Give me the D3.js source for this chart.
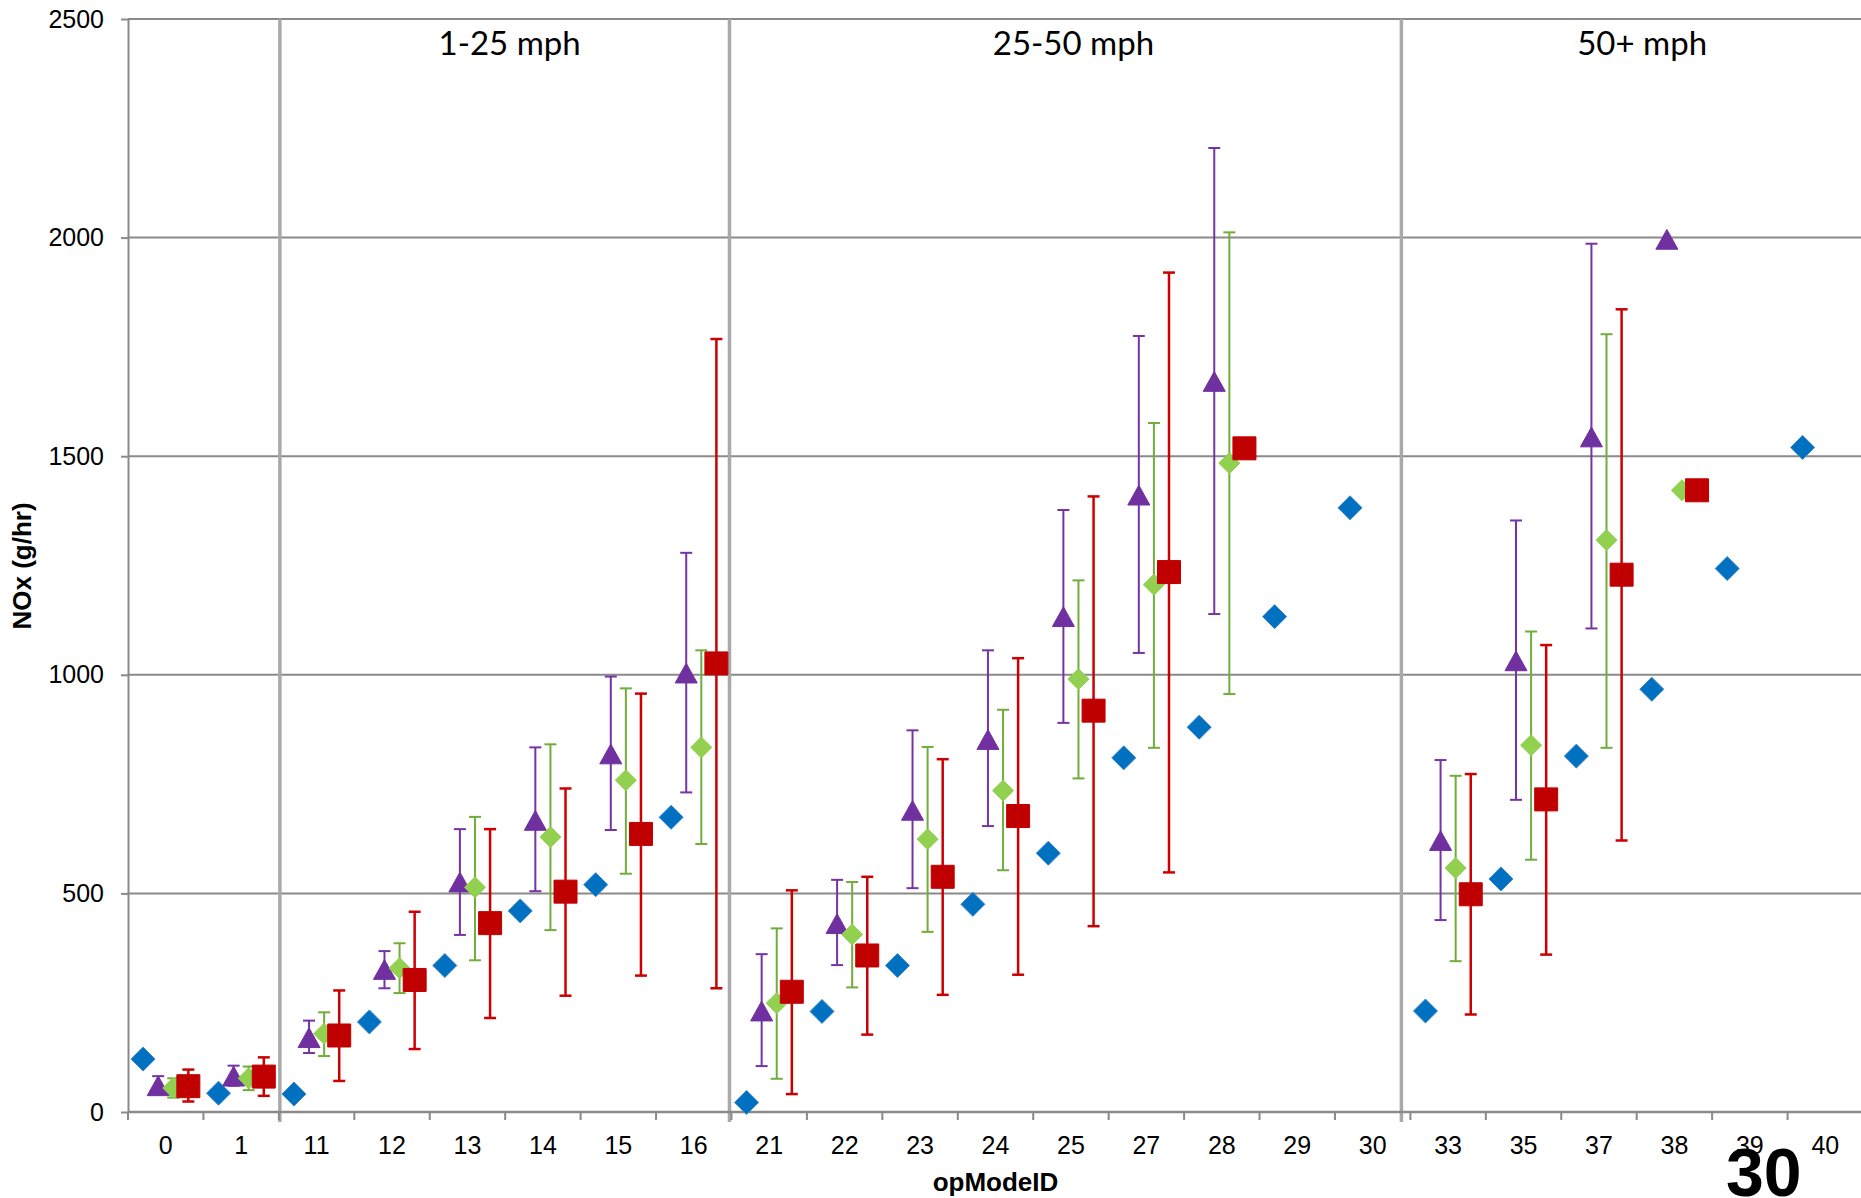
<!DOCTYPE html>
<html>
<head>
<meta charset="utf-8">
<script src="https://cdn.jsdelivr.net/npm/d3@7"></script>
<style>
  body { margin: 0; background: #fff; }
  text { font-family: "Liberation Sans", Arial, sans-serif; fill: #000; }
</style>
</head>
<body>
<div id="chart"></div>
<script>
// opModeID categories and y ticks
const categories = ["0", "1", "11", "12", "13", "14", "15", "16", "21", "22", "23", "24", "25",
                    "27", "28", "29", "30", "33", "35", "37", "38", "39", "40"];
const yTicks = [0, 500, 1000, 1500, 2000, 2500];

// blue diamonds (no error bars)
const blueVals   = [121, 43, 41, 206, 335, 460, 520, 674, 22, 230, 335, 475, 592,
                    810, 880, 1133, 1382, 231, 533, 814, 967, 1243, 1520];

// purple triangles
const purpleVals = [60, 82, 170, 326, 526, 667, 819, 1004, 231, 431, 690, 852, 1133,
                    1411, 1671, null, null, 621, 1032, 1544, 1996, null, null];
const purpleHi   = [82, 106, 209, 368, 647, 834, 996, 1279, 361, 531, 873, 1056, 1377,
                    1775, 2205, null, null, 805, 1353, 1986, null, null, null];
const purpleLo   = [42, 60, 135, 283, 405, 505, 645, 731, 105, 336, 512, 654, 890,
                    1050, 1139, null, null, 439, 714, 1106, null, null, null];

// green diamonds
const greenVals  = [55, 77, 179, 329, 514, 629, 759, 834, 249, 406, 624, 735, 990,
                    1206, 1484, null, null, 558, 839, 1308, 1422, null, null];
const greenHi    = [77, 104, 228, 386, 675, 841, 969, 1056, 420, 526, 835, 920, 1216,
                    1576, 2012, null, null, 769, 1099, 1779, null, null, null];
const greenLo    = [33, 50, 128, 272, 347, 416, 545, 613, 76, 285, 412, 553, 763,
                    833, 956, null, null, 345, 577, 833, null, null, null];

// red squares
const redVals    = [59, 81, 175, 302, 432, 504, 636, 1026, 275, 358, 538, 677, 918,
                    1235, 1518, null, null, 498, 715, 1229, 1422, null, null];
const redHi      = [97, 125, 278, 458, 647, 740, 957, 1768, 507, 538, 807, 1038, 1408,
                    1920, null, null, null, 773, 1068, 1836, null, null, null];
const redLo      = [24, 37, 71, 144, 215, 266, 312, 283, 41, 177, 268, 314, 425,
                    548, null, null, null, 223, 360, 621, null, null, null];

// speed groups (first category of each group)
const sectionLabels = ["1-25 mph", "25-50 mph", "50+ mph"];
const sectionStarts = ["11", "21", "33"];

const w = 1861;
const h = 1198;
const plotLeft = 128, plotRight = 1863, plotTop = 19, plotBottom = 1112;

const xScale = d3.scaleBand().domain(categories).range([plotLeft, plotRight]);
const yScale = d3.scaleLinear().domain([0, 2500]).range([plotBottom, plotTop]);
const bw = xScale.bandwidth();

const svg = d3.select("#chart")
  .append("svg")
  .attr("width", w)
  .attr("height", h);

// horizontal gridlines
svg.append("g")
  .selectAll("line")
  .data(yTicks)
  .join("line")
  .attr("x1", plotLeft)
  .attr("x2", w)
  .attr("y1", d => yScale(d))
  .attr("y2", d => yScale(d))
  .attr("stroke", "#8a8a8a")
  .attr("stroke-width", 2);

// y axis
const yAxis = d3.axisLeft(yScale)
  .tickValues(yTicks)
  .tickFormat(d3.format("d"))
  .tickSize(7)
  .tickSizeOuter(0)
  .tickPadding(17);

const gy = svg.append("g")
  .attr("transform", `translate(${plotLeft}, 0)`)
  .call(yAxis);
gy.select(".domain").attr("stroke", "#8a8a8a").attr("stroke-width", 2);
gy.selectAll(".tick line").attr("stroke", "#8a8a8a").attr("stroke-width", 2);
gy.selectAll("text").attr("font-size", 25).attr("font-family", "Liberation Sans, Arial, sans-serif");

// group separators
const sepNudge = [1, -2, -9];
svg.append("g")
  .selectAll("line")
  .data(sectionStarts)
  .join("line")
  .attr("x1", (d, i) => xScale(d) + sepNudge[i])
  .attr("x2", (d, i) => xScale(d) + sepNudge[i])
  .attr("y1", plotTop)
  .attr("y2", plotBottom + 10)
  .attr("stroke", "#a9a9a9")
  .attr("stroke-width", 3.5);

// x axis: labels at band centres, ticks at band edges
const xAxis = d3.axisBottom(xScale)
  .tickSize(0)
  .tickPadding(24);

const gx = svg.append("g")
  .attr("transform", `translate(0, ${plotBottom})`)
  .call(xAxis);
gx.select(".domain").remove();
gx.selectAll("text").attr("font-size", 25).attr("font-family", "Liberation Sans, Arial, sans-serif");

svg.append("line")
  .attr("x1", plotLeft)
  .attr("x2", w)
  .attr("y1", plotBottom)
  .attr("y2", plotBottom)
  .attr("stroke", "#8a8a8a")
  .attr("stroke-width", 2.5);

svg.append("g")
  .selectAll("line")
  .data(d3.range(categories.length + 1))
  .join("line")
  .attr("x1", i => plotLeft + i * bw)
  .attr("x2", i => plotLeft + i * bw)
  .attr("y1", plotBottom)
  .attr("y2", plotBottom + 8)
  .attr("stroke", "#8a8a8a")
  .attr("stroke-width", 2);

// marker shapes
const shapes = {
  diamond: s => `M0,${-s / 2}L${s / 2},0L0,${s / 2}L${-s / 2},0Z`,
  square: s => `M${-s / 2},${-s / 2}h${s}v${s}h${-s}Z`,
  triangle: s => `M0,${-s * 0.45}L${s * 0.5},${s * 0.45}L${-s * 0.5},${s * 0.45}Z`
};

const series = [
  { vals: blueVals, hi: null, lo: null, shape: "diamond", size: 24, fill: "#0070C0", stroke: "#3b86cc", bar: null, barW: 0 },
  { vals: purpleVals, hi: purpleHi, lo: purpleLo, shape: "triangle", size: 22, fill: "#7030A0", stroke: "#7030A0", bar: "#7434a6", barW: 2 },
  { vals: greenVals, hi: greenHi, lo: greenLo, shape: "diamond", size: 21, fill: "#92D050", stroke: "#92D050", bar: "#70ad3c", barW: 2 },
  { vals: redVals, hi: redHi, lo: redLo, shape: "square", size: 23, fill: "#C00000", stroke: "#C00000", bar: "#cc0000", barW: 2.5 }
];

series.forEach((s, k) => {
  const pts = categories
    .map((c, i) => ({ c: c, v: s.vals[i], hi: s.hi ? s.hi[i] : null, lo: s.lo ? s.lo[i] : null }))
    .filter(d => d.v != null);
  const px = d => xScale(d.c) + bw * (k + 1) / 5;
  const g = svg.append("g");

  // error bars
  const withBars = pts.filter(d => d.hi != null && d.lo != null);
  g.selectAll(".bar")
    .data(withBars)
    .join("line")
    .attr("class", "bar")
    .attr("x1", px).attr("x2", px)
    .attr("y1", d => yScale(d.hi))
    .attr("y2", d => yScale(d.lo))
    .attr("stroke", s.bar)
    .attr("stroke-width", s.barW);

  ["hi", "lo"].forEach(key => {
    g.selectAll(".cap-" + key)
      .data(withBars)
      .join("line")
      .attr("class", "cap-" + key)
      .attr("x1", d => px(d) - 6)
      .attr("x2", d => px(d) + 6)
      .attr("y1", d => yScale(d[key]))
      .attr("y2", d => yScale(d[key]))
      .attr("stroke", s.bar)
      .attr("stroke-width", s.barW);
  });

  // markers
  g.selectAll("path")
    .data(pts)
    .join("path")
    .attr("d", shapes[s.shape](s.size))
    .attr("transform", d => `translate(${px(d)}, ${yScale(d.v)})`)
    .attr("fill", s.fill)
    .attr("stroke", s.stroke)
    .attr("stroke-width", 1);
});

// speed group labels
const sepX = sectionStarts.map((d, i) => xScale(d) + sepNudge[i]);
svg.append("g")
  .selectAll("text")
  .data(sectionLabels)
  .join("text")
  .attr("x", (d, i) => (sepX[i] + (i < sepX.length - 1 ? sepX[i + 1] : w)) / 2 + 5 + 3 * i)
  .attr("y", 55)
  .attr("text-anchor", "middle")
  .style("font-family", "Lato, 'Open Sans', sans-serif")
  .attr("font-size", 33)
  .text(d => d);

// axis titles
svg.append("text")
  .attr("x", (plotLeft + plotRight) / 2)
  .attr("y", 1191)
  .attr("text-anchor", "middle")
  .attr("font-size", 26)
  .attr("font-weight", "bold")
  .text("opModeID");

svg.append("text")
  .attr("transform", "translate(31, 566) rotate(-90)")
  .attr("text-anchor", "middle")
  .attr("font-size", 26)
  .attr("font-weight", "bold")
  .text("NOx (g/hr)");

// slide number
svg.append("text")
  .attr("x", 1726)
  .attr("y", 1196)
  .attr("font-size", 68)
  .attr("font-weight", "bold")
  .text("30");
</script>
</body>
</html>
